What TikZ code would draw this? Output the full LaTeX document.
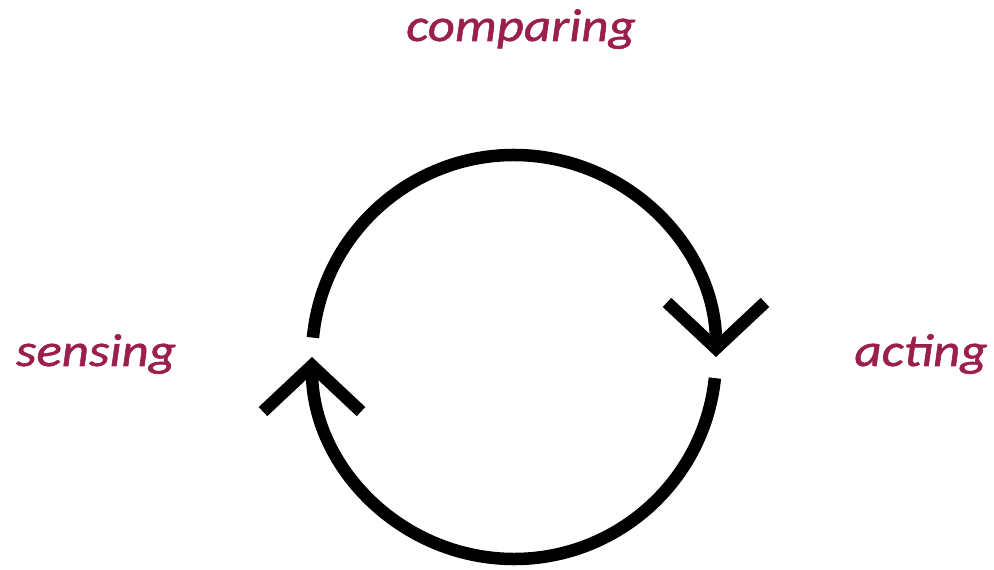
\documentclass[tikz,border=0pt]{standalone}
\usepackage{fontspec}
\setmainfont{Carlito}
\newfontfamily\stagefont{Carlito}[FakeStretch=1.15,FakeBold=1.2]
\usepackage{tikz}
\usetikzlibrary{arrows.meta,calc}
\definecolor{Claret}{HTML}{9B1F4D}
\tikzset{
  stage/.style={text=Claret,font=\stagefont\itshape\fontsize{46}{54}\selectfont,inner sep=0pt,anchor=base},
  loopArrow/.style={line width=12.5pt,draw=black,-{Straight Barb[length=46pt,width=98pt]}}
}
\begin{document}
\begin{tikzpicture}[x=1pt,y=1pt]
  \useasboundingbox (0,0) rectangle (994,570);
  \coordinate (hub) at (514,213);
  % the three stages
  \node[stage] (comparing) at (521,529) {comparing};
  \node[stage] (sensing) at (96,204) {sensing};
  \node[stage] (acting) at (921,204) {acting};
  % loop: upper half then lower half
  \draw[loopArrow] ($(hub)+(174.5:202)$) arc[start angle=174.5,end angle=0,radius=202];
  \draw[loopArrow] ($(hub)+(-6:202)$) arc[start angle=-6,end angle=-180,radius=202];
\end{tikzpicture}
\end{document}
